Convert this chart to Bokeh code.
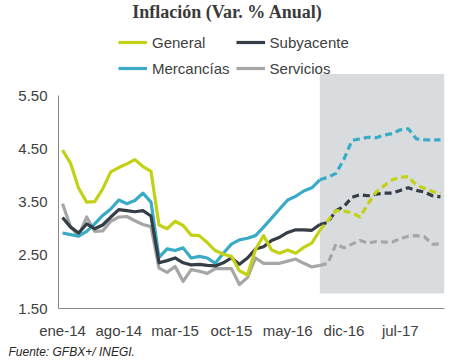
from bokeh.plotting import figure
from bokeh.models import Range1d, FixedTicker, Legend, LegendItem, Label, NumeralTickFormatter, Title
from bokeh.embed import file_html
from bokeh.resources import INLINE

# ---- data (monthly, ene-14 .. dic-17) ----
tick_labels = ["ene-14", "ago-14", "mar-15", "oct-15", "may-16", "dic-16", "jul-17"]
tick_step = 7
forecast_start = 32  # first point of the estimated (dashed) part

general = [4.48, 4.23, 3.76, 3.50, 3.51, 3.75, 4.07, 4.15, 4.22, 4.30, 4.17, 4.08,
           3.07, 3.00, 3.14, 3.06, 2.88, 2.87, 2.74, 2.59, 2.52, 2.48, 2.21, 2.13,
           2.61, 2.87, 2.60, 2.54, 2.60, 2.54, 2.65, 2.73, 2.97, 3.15, 3.34, 3.33,
           3.30, 3.22, 3.47, 3.69, 3.81, 3.92, 3.97, 3.98, 3.82, 3.76, 3.70, 3.66]
subyacente = [3.21, 3.03, 2.92, 3.09, 3.00, 3.07, 3.22, 3.36, 3.34, 3.32, 3.34, 3.24,
              2.36, 2.40, 2.45, 2.36, 2.32, 2.33, 2.31, 2.30, 2.36, 2.45, 2.33, 2.45,
              2.62, 2.66, 2.78, 2.84, 2.93, 2.98, 2.98, 2.97, 3.08, 3.12, 3.34, 3.42,
              3.59, 3.64, 3.62, 3.65, 3.67, 3.67, 3.72, 3.77, 3.72, 3.69, 3.62, 3.60]
mercancias = [2.92, 2.89, 2.86, 2.95, 3.09, 3.25, 3.37, 3.54, 3.47, 3.53, 3.67, 3.50,
              2.46, 2.62, 2.59, 2.64, 2.45, 2.48, 2.45, 2.35, 2.54, 2.71, 2.79, 2.82,
              2.87, 3.03, 3.20, 3.37, 3.54, 3.61, 3.71, 3.77, 3.92, 3.97, 4.04, 4.31,
              4.66, 4.69, 4.72, 4.71, 4.76, 4.79, 4.86, 4.88, 4.69, 4.67, 4.67, 4.67]
servicios = [3.47, 3.04, 2.87, 3.22, 2.95, 2.96, 3.14, 3.22, 3.23, 3.15, 3.08, 3.04,
             2.26, 2.18, 2.29, 2.01, 2.23, 2.20, 2.16, 2.25, 2.25, 2.25, 1.95, 2.08,
             2.45, 2.35, 2.35, 2.35, 2.39, 2.43, 2.35, 2.28, 2.31, 2.35, 2.71, 2.64,
             2.71, 2.78, 2.73, 2.76, 2.75, 2.75, 2.81, 2.86, 2.87, 2.85, 2.71, 2.71]
y_ticks = [1.5, 2.5, 3.5, 4.5, 5.5]

series = [
    ("Servicios", servicios, "#a6a6a6"),
    ("Mercancías", mercancias, "#3aabc6"),
    ("Subyacente", subyacente, "#353d47"),
    ("General", general, "#c3d116"),
]
legend_order = ["General", "Subyacente", "Mercancías", "Servicios"]

# ---- figure ----
n = len(general)
x = list(range(n))
x_start, x_end = -0.5, n - 0.5
W, H = 453, 361
left, right, bottom = 58, 9, 53
frame_w = W - left - right
frame_h = H - bottom
px_per_month = frame_w / n
px_per_unit = 53.18
y_start = y_ticks[0]
y_end = y_start + frame_h / px_per_unit

p = figure(width=W, height=H, output_backend="svg", toolbar_location=None,
           x_range=Range1d(x_start, x_end), y_range=Range1d(y_start, y_end),
           min_border_left=left, min_border_right=right, min_border_top=0,
           min_border_bottom=bottom)
p.outline_line_color = None
p.grid.visible = False
p.background_fill_color = "white"
p.border_fill_color = "white"

# shaded forecast area
shade_bottom, shade_top = 1.78, 5.91
p.quad(left=forecast_start, right=x_end, bottom=shade_bottom, top=shade_top,
       fill_color="#d9dcdf", line_color=None)

renderers = {}
for name, vals, color in series:
    r = p.line(x[:forecast_start + 1], vals[:forecast_start + 1], line_color=color, line_width=3.2,
               line_join="round")
    p.line(x[forecast_start:], vals[forecast_start:], line_color=color, line_width=3.2,
           line_dash="7 4", line_join="round")
    renderers[name] = r

# axes
axis_color = "#8a8a8a"
label_color = "#404040"
p.yaxis.ticker = FixedTicker(ticks=y_ticks)
p.yaxis.formatter = NumeralTickFormatter(format="0.00")
p.yaxis.bounds = (y_ticks[0], y_ticks[-1])
p.yaxis.major_tick_out = 5
p.yaxis.major_tick_in = 0
p.yaxis.major_label_standoff = 6

tick_pos = list(range(0, n, tick_step))[:len(tick_labels)]
p.xaxis.ticker = FixedTicker(ticks=tick_pos, minor_ticks=[t - 0.5 for t in tick_pos])
p.xaxis.major_label_overrides = {t: lab for t, lab in zip(tick_pos, tick_labels)}
p.xaxis.major_tick_out = 5
p.xaxis.major_tick_in = 0
p.xaxis.minor_tick_out = 5
p.xaxis.minor_tick_in = 0
p.xaxis.major_label_standoff = 8

for ax in (p.xaxis, p.yaxis):
    ax.axis_line_color = axis_color
    ax.major_tick_line_color = axis_color if ax is p.yaxis else None
    ax.minor_tick_line_color = axis_color if ax is p.xaxis else None
    ax.major_label_text_font = "Liberation Sans"
    ax.major_label_text_font_size = "15px"
    ax.major_label_text_color = label_color

# legend
items = [LegendItem(label=name, renderers=[renderers[name]]) for name in legend_order]
legend = Legend(items=items, orientation="horizontal", ncols=2,
                location=(60, 230), margin=0, padding=0, spacing=6,
                glyph_width=29, glyph_height=20, label_height=20, label_standoff=5,
                label_text_font="Liberation Sans", label_text_font_size="15px",
                label_text_color=label_color,
                background_fill_alpha=0, border_line_alpha=0)
p.add_layout(legend, "center")

# title
title = Label(x=x_start + (227 - left) / px_per_month, y=y_end - 1 / px_per_unit,
              text="Inflación (Var. % Anual)", text_align="center", text_baseline="top",
              text_font="Liberation Serif", text_font_style="bold", text_font_size="18px",
              text_color="#3a3a3a")
p.add_layout(title)

# source
source = Title(text="Fuente: GFBX+/ INEGI.", align="left", offset=-50,
               text_font="Liberation Sans", text_font_style="italic", text_font_size="12px",
               text_color="#262626", standoff=3)
p.add_layout(source, "below")

open("out.html", "w").write(file_html(p, INLINE))
